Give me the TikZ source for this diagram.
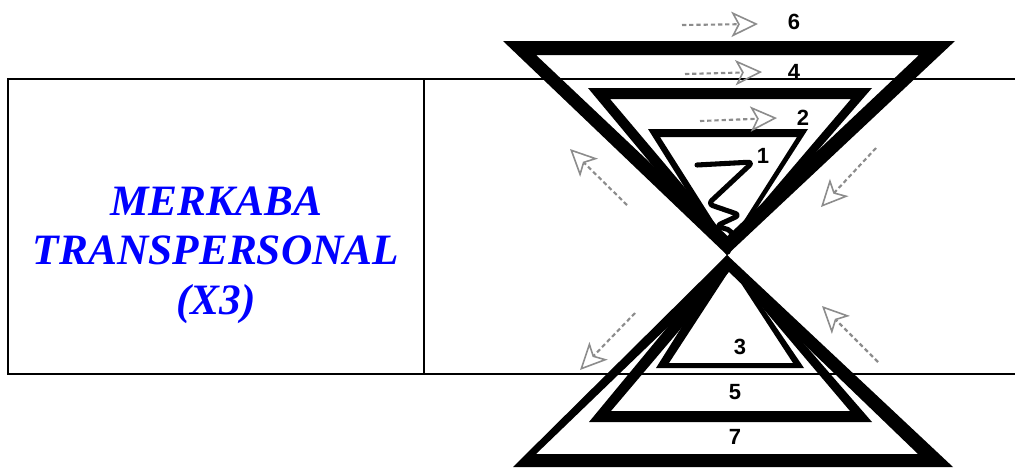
\documentclass[tikz,border=0pt]{standalone}
\usepackage{fontspec}
\setmainfont{Liberation Serif}
\newfontfamily\labelfont{Liberation Sans}
\usetikzlibrary{arrows.meta}
\definecolor{titleblue}{RGB}{0,0,255}
\definecolor{arrowgray}{RGB}{140,140,140}
\tikzset{
  tableline/.style={line width=1.5pt},
  band/.style={fill=black, even odd rule, draw=none},
  flowarrow/.style={arrowgray, line width=1.6pt, dash pattern=on 3.2pt off 2.2pt,
    -{Stealth[open, length=20pt, width=19pt, inset=5pt, line width=1.2pt, arrowgray]}},
  numlabel/.style={font=\labelfont\bfseries\fontsize{16.5}{18}\selectfont, inner sep=0pt},
  squiggle/.style={line width=3.8pt, line cap=round, line join=round, rounded corners=4pt}
}
\begin{document}
\begin{tikzpicture}[x=0.75pt,y=-0.75pt]
\useasboundingbox (0,0) rectangle (1015,468);
% table
\draw[tableline] (1015,79) -- (8,79) -- (8,374) -- (1015,374);
\draw[tableline] (424,79) -- (424,374);
\node[align=center, text=titleblue, font=\bfseries\itshape\fontsize{32.5}{37}\selectfont, inner sep=0pt] (title) at (216,255) {MERKABA\\TRANSPERSONAL\\(X3)};
% upper triangles (apex down)
\fill[band] (503,41) -- (955,41) -- (727,255) -- cycle (536,55) -- (919,55) -- (727.5,236) -- cycle;
\fill[band] (588,88) -- (872,88) -- (727,255) -- cycle (610,99) -- (851,99) -- (730,241) -- cycle;
\fill[band] (648,129) -- (808,129) -- (727,255) -- cycle (660,137) -- (797,137) -- (728.5,245) -- cycle;
% lower triangles (apex up)
\fill[band] (513,467) -- (953,467) -- (727,255) -- cycle (536,454) -- (918,454) -- (727,270) -- cycle;
\fill[band] (589,422) -- (872,422) -- (727,255) -- cycle (611,411) -- (850,411) -- (730.5,270) -- cycle;
\fill[band] (656,368) -- (804,368) -- (727,255) -- cycle (669,363) -- (793,363) -- (731,268) -- cycle;
% squiggle
\draw[squiggle] (697,165) -- (753,162) -- (708,204) -- (740,215) -- (716,226) -- (733,231) -- (728,252);
% labels
\node[numlabel] (l6) at (794,22) {6};
\node[numlabel] (l4) at (794,72) {4};
\node[numlabel] (l2) at (803,118) {2};
\node[numlabel] (l1) at (763,156) {1};
\node[numlabel] (l3) at (740,347) {3};
\node[numlabel] (l5) at (735,392) {5};
\node[numlabel] (l7) at (735,437) {7};
% arrows
\coordinate (a6s) at (682,25);  \coordinate (a6e) at (758,24);
\coordinate (a4s) at (685,74);  \coordinate (a4e) at (762,72);
\coordinate (a2s) at (700,121); \coordinate (a2e) at (777,118);
\coordinate (uls) at (627,205); \coordinate (ule) at (570,149);
\coordinate (urs) at (876,148); \coordinate (ure) at (821,207);
\coordinate (lls) at (635,313); \coordinate (lle) at (580,370);
\coordinate (lrs) at (878,362); \coordinate (lre) at (822,306);
\draw[flowarrow] (a6s) -- (a6e);
\draw[flowarrow] (a4s) -- (a4e);
\draw[flowarrow] (a2s) -- (a2e);
\draw[flowarrow] (uls) -- (ule);
\draw[flowarrow] (urs) -- (ure);
\draw[flowarrow] (lls) -- (lle);
\draw[flowarrow] (lrs) -- (lre);
\end{tikzpicture}
\end{document}
